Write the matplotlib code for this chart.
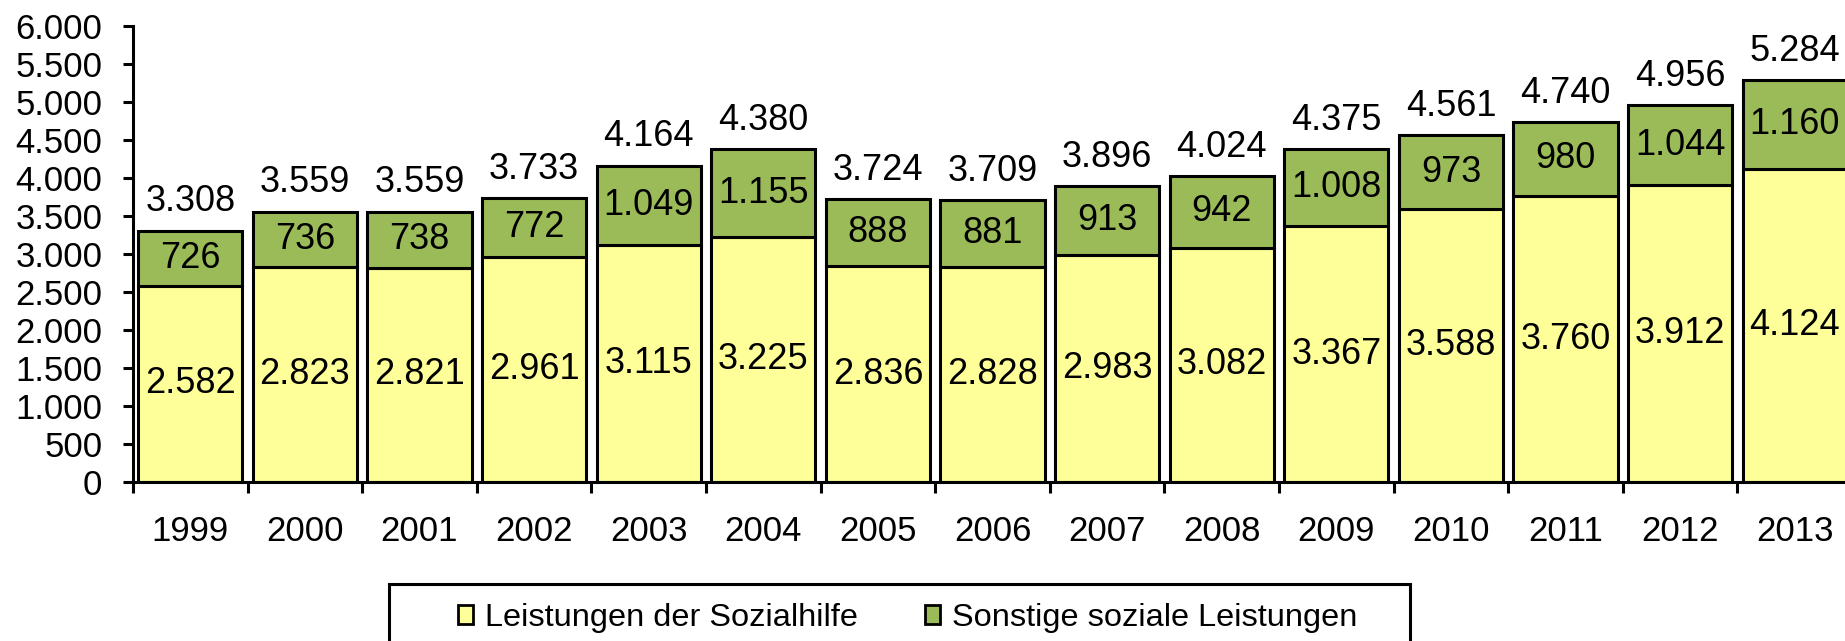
import matplotlib
matplotlib.use("Agg")
import matplotlib.pyplot as plt
from matplotlib.patches import Rectangle
from matplotlib.ticker import FuncFormatter, MultipleLocator
import numpy as np

years = ["1999", "2000", "2001", "2002", "2003", "2004", "2005", "2006",
         "2007", "2008", "2009", "2010", "2011", "2012", "2013"]
sozialhilfe = [2582, 2823, 2821, 2961, 3115, 3225, 2836, 2828,
               2983, 3082, 3367, 3588, 3760, 3912, 4124]
sonstige = [726, 736, 738, 772, 1049, 1155, 888, 881,
            913, 942, 1008, 973, 980, 1044, 1160]
totals = [3308, 3559, 3559, 3733, 4164, 4380, 3724, 3709,
          3896, 4024, 4375, 4561, 4740, 4956, 5284]
series_names = ["Leistungen der Sozialhilfe", "Sonstige soziale Leistungen"]

yellow = "#FFFF99"
green = "#9BBB59"

plt.rcParams['font.family'] = ['Liberation Sans', 'DejaVu Sans']


def de(v):
    return f"{v:,.0f}".replace(",", ".")


W, H = 1845, 641
fig = plt.figure(figsize=(W / 100, H / 100), dpi=100)
ax = fig.add_axes([133 / W, 1 - 482 / H, (1852 - 133) / W, (482 - 26) / H])

x = np.arange(len(years))
bw = 0.91
b1 = ax.bar(x, sozialhilfe, bw, color=yellow, edgecolor='black', linewidth=2.2,
            label=series_names[0])
b2 = ax.bar(x, sonstige, bw, bottom=sozialhilfe, color=green, edgecolor='black',
            linewidth=2.2, label=series_names[1])

for i in range(len(years)):
    ax.text(x[i], sozialhilfe[i] / 2, de(sozialhilfe[i]), ha='center', va='center',
            fontsize=26)
    ax.text(x[i], sozialhilfe[i] + sonstige[i] / 2, de(sonstige[i]), ha='center',
            va='center', fontsize=26)
    ax.annotate(de(totals[i]), (x[i], totals[i]), xytext=(0, 8),
                textcoords='offset points', ha='center', va='bottom', fontsize=26)

ax.set_xlim(-0.5, len(years) - 0.5)
ax.set_ylim(0, 6000)
ax.yaxis.set_major_locator(MultipleLocator(500))
ax.yaxis.set_major_formatter(FuncFormatter(lambda v, p: de(v)))
ax.set_xticks(x)
ax.set_xticklabels(years)
ax.set_xticks(np.arange(len(years) + 1) - 0.5, minor=True)
ax.tick_params(axis='x', which='major', length=0, pad=24, labelsize=25)
ax.tick_params(axis='x', which='minor', length=8, width=2.2, direction='out')
ax.tick_params(axis='y', length=7, width=2.2, direction='out', pad=15, labelsize=25)

for s in ['top', 'right']:
    ax.spines[s].set_visible(False)
for s in ['left', 'bottom']:
    ax.spines[s].set_linewidth(2.2)

# legend box
fig.patches.append(Rectangle((389 / W, -0.05), (1410 - 389) / W, 0.05 + 1 - 584 / H,
                             transform=fig.transFigure, facecolor='white',
                             edgecolor='black', linewidth=2.2))
leg = fig.legend(handles=[b1, b2], loc='center left',
                 bbox_to_anchor=(458 / W, 1 - 618 / H), ncol=2, frameon=False,
                 borderpad=0, borderaxespad=0, handlelength=0.46, handleheight=0.55,
                 handletextpad=0.37, columnspacing=2.05,
                 prop={'size': 23.4})
for h in leg.legend_handles:
    h.set_linewidth(2)

fig.savefig("out.png", dpi=100)
